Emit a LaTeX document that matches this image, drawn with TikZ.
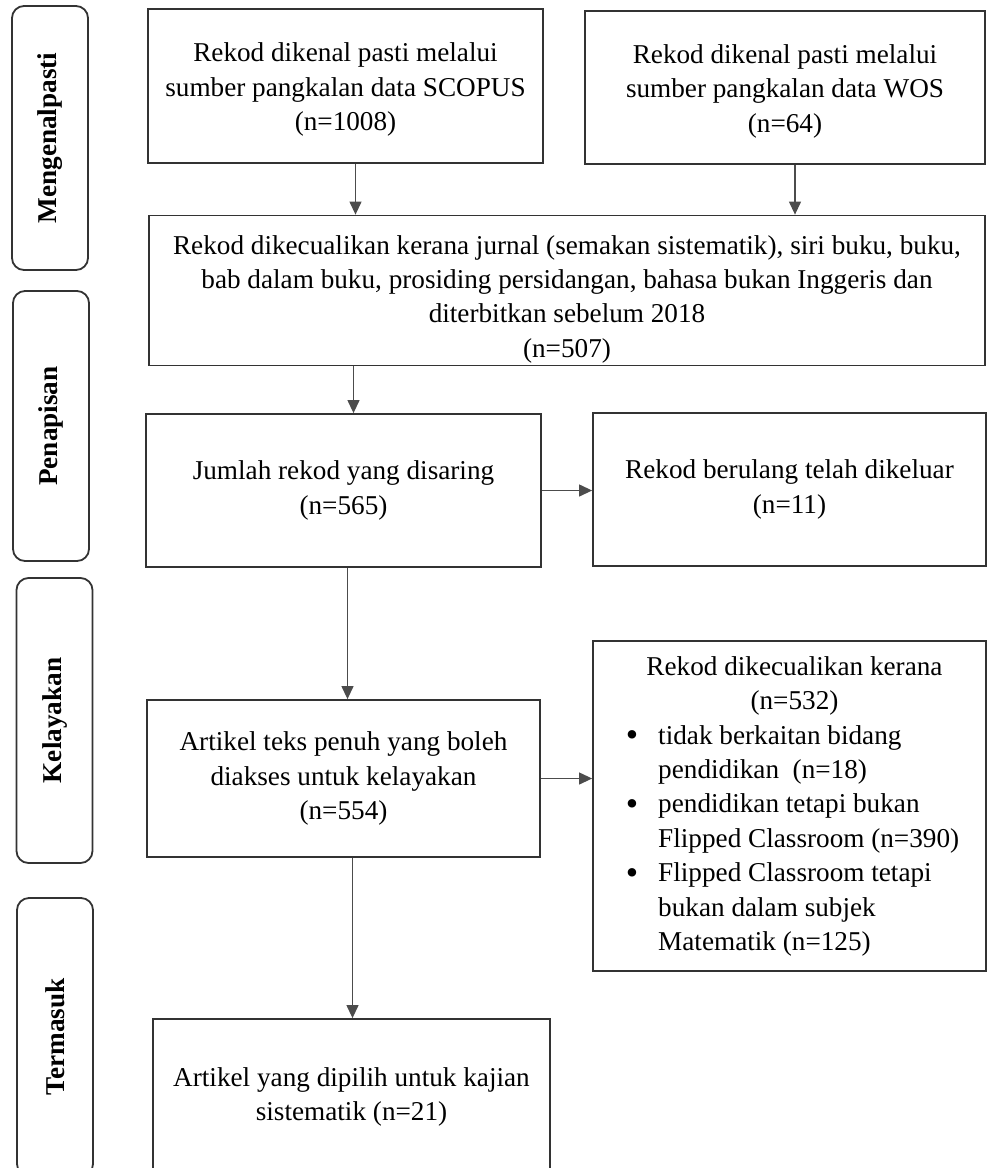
\documentclass[tikz,border=0pt]{standalone}
\usepackage{fontspec}
\setmainfont{Liberation Serif}
\usetikzlibrary{arrows.meta}

\begin{document}
\begin{tikzpicture}[x=0.5pt, y=-0.5pt,
		every node/.style={font=\fontsize{13.6}{17.2}\selectfont},
		box/.style={draw=black!80, line width=0.9pt, align=center, inner sep=0pt},
		side/.style={draw=black!80, line width=0.9pt, rounded corners=6pt, minimum width=38pt, inner sep=0pt},
		arr/.style={draw=black!70, line width=0.6pt, -{Triangle[length=6.5pt,width=6pt]}}]
	\useasboundingbox (0,0) rectangle (986,1168);

	% tahap di sebelah kiri
	\node[side, minimum height=132pt] (mengenal) at (50,138) {\rotatebox{90}{\textbf{Mengenalpasti}}};
	\node[side, minimum height=135pt] (penapisan) at (51,426) {\rotatebox{90}{\textbf{Penapisan}}};
	\node[side, minimum height=142.5pt] (kelayakan) at (54.5,720.5) {\rotatebox{90}{\textbf{Kelayakan}}};
	\node[side, minimum height=139pt] (termasuk) at (55,1037) {\rotatebox{90}{\textbf{Termasuk}}};

	% kotak utama
	\node[box, minimum width=197.5pt, minimum height=77pt] (scopus) at (345.5,86) {\rule{0pt}{13pt}Rekod dikenal pasti melalui\\sumber pangkalan data SCOPUS\\(n=1008)};
	\node[box, minimum width=200pt, minimum height=76.5pt] (wos) at (785,87.5) {\rule{0pt}{13pt}Rekod dikenal pasti melalui\\sumber pangkalan data WOS\\(n=64)};
	\node[box, minimum width=418pt, minimum height=75pt] (kecuali) at (567,290.5) {\rule{0pt}{18pt}Rekod dikecualikan kerana jurnal (semakan sistematik), siri buku, buku,\\bab dalam buku, prosiding persidangan, bahasa bukan Inggeris dan\\diterbitkan sebelum 2018\\(n=507)};
	\node[box, minimum width=197.5pt, minimum height=76.5pt] (saring) at (343.5,490.5) {Jumlah rekod yang disaring\\(n=565)};
	\node[box, minimum width=196.5pt, minimum height=76.5pt] (ulang) at (789.5,489.5) {Rekod berulang telah dikeluar\\(n=11)};
	\node[box, minimum width=196.5pt, minimum height=78.5pt] (penuh) at (343.5,778.5) {Artikel teks penuh yang boleh\\diakses untuk kelayakan\\(n=554)};
	\node[box, minimum width=196.5pt, minimum height=165pt] (kecualidua) at (789.5,806) {%
		\begin{tabular}{@{\hspace{3pt}}l@{\hspace{10pt}}l@{}}
			\multicolumn{2}{c}{\hspace{5pt}Rekod dikecualikan kerana}\\
			\multicolumn{2}{c}{\hspace{5pt}(n=532)}\\
			\raisebox{-0.2ex}{\scalebox{1.3}{\textbullet}} & tidak berkaitan bidang\\
			& pendidikan\ \ (n=18)\\
			\raisebox{-0.2ex}{\scalebox{1.3}{\textbullet}} & pendidikan tetapi bukan\\
			& Flipped Classroom (n=390)\\
			\raisebox{-0.2ex}{\scalebox{1.3}{\textbullet}} & Flipped Classroom tetapi\\
			& bukan dalam subjek\\
			& Matematik (n=125)
		\end{tabular}};
	\node[box, minimum width=198.5pt, minimum height=78pt] (pilih) at (351.5,1097) {Artikel yang dipilih untuk kajian\\sistematik (n=21)};

	% anak panah
	\draw[arr] ([xshift=5pt]scopus.south) -- ([xshift=5pt]scopus.south |- kecuali.north);
	\draw[arr] ([xshift=5pt]wos.south) -- ([xshift=5pt]wos.south |- kecuali.north);
	\draw[arr] ([xshift=5pt]saring.north |- kecuali.south) -- ([xshift=5pt]saring.north);
	\draw[arr] (saring.east) -- (saring.east -| ulang.west);
	\draw[arr] ([xshift=2pt]saring.south) -- ([xshift=2pt]saring.south |- penuh.north);
	\draw[arr] (penuh.east) -- (penuh.east -| kecualidua.west);
	\draw[arr] ([xshift=4.5pt]penuh.south) -- ([xshift=4.5pt]penuh.south |- pilih.north);
\end{tikzpicture}
\end{document}
